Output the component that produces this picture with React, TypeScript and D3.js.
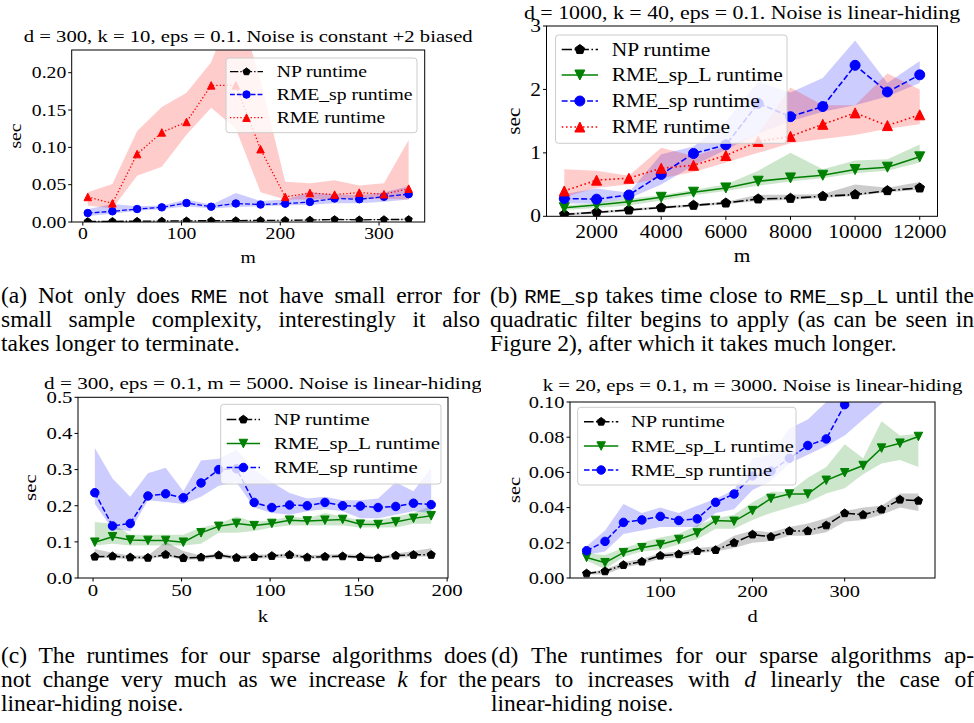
import React, { useEffect, useRef } from "react";
import * as d3 from "d3";

// (a) runtime vs m, d = 300, k = 10, constant +2 biased noise
const aM = [5, 30, 55, 80, 105, 130, 155, 180, 205, 230, 255, 280, 305, 330];
const aNP = [0.0008, 0.0009, 0.0011, 0.0013, 0.0016, 0.0017, 0.0019, 0.0021, 0.0022, 0.0026, 0.0034, 0.0029, 0.0033, 0.0034];
const aNPLo = [0.0004, 0.0005, 0.0007, 0.0009, 0.0012, 0.0013, 0.0015, 0.0017, 0.0018, 0.0021, 0.0028, 0.0024, 0.0028, 0.0029];
const aNPHi = [0.0014, 0.0015, 0.0017, 0.0019, 0.0023, 0.0024, 0.0026, 0.0028, 0.003, 0.0034, 0.0042, 0.0036, 0.0041, 0.0042];
const aSP = [0.012, 0.0143, 0.0174, 0.0196, 0.0254, 0.0205, 0.0248, 0.0234, 0.0246, 0.0268, 0.0315, 0.0305, 0.0338, 0.0373];
const aSPLo = [0.008, 0.011, 0.015, 0.017, 0.021, 0.018, 0.02, 0.021, 0.022, 0.023, 0.025, 0.025, 0.027, 0.03];
const aSPHi = [0.017, 0.024, 0.021, 0.022, 0.03, 0.023, 0.039, 0.028, 0.03, 0.04, 0.037, 0.036, 0.04, 0.048];
const aRME = [0.0335, 0.025, 0.091, 0.12, 0.134, 0.183, 0.183, 0.0975, 0.0336, 0.0389, 0.0367, 0.0394, 0.0372, 0.0447];
const aRMELo = [0.022, 0.018, 0.062, 0.074, 0.117, 0.153, 0.125, 0.04, 0.03, 0.03, 0.031, 0.031, 0.031, 0.03];
const aRMEHi = [0.04, 0.051, 0.122, 0.154, 0.173, 0.214, 0.3, 0.19, 0.054, 0.052, 0.056, 0.049, 0.052, 0.11];

// (b) runtime vs m, d = 1000, k = 40, linear-hiding noise
const bM = [1000, 2000, 3000, 4000, 5000, 6000, 7000, 8000, 9000, 10000, 11000, 12000];
const bNP = [0.03, 0.063, 0.1, 0.136, 0.174, 0.21, 0.274, 0.284, 0.316, 0.342, 0.405, 0.447];
const bNPLo = [0.01, 0.04, 0.08, 0.12, 0.15, 0.19, 0.24, 0.26, 0.29, 0.32, 0.38, 0.42];
const bNPHi = [0.05, 0.08, 0.12, 0.16, 0.19, 0.23, 0.34, 0.34, 0.35, 0.5, 0.45, 0.54];
const bSPL = [0.136, 0.178, 0.23, 0.3, 0.38, 0.447, 0.553, 0.605, 0.647, 0.737, 0.774, 0.937];
const bSPLLo = [0.1, 0.13, 0.17, 0.25, 0.33, 0.4, 0.48, 0.55, 0.6, 0.68, 0.72, 0.85];
const bSPLHi = [0.17, 0.21, 0.28, 0.33, 0.42, 0.5, 0.72, 1.0, 0.74, 0.88, 0.9, 1.13];
const bSP = [0.28, 0.27, 0.336, 0.66, 0.99, 1.126, 1.78, 1.57, 1.73, 2.38, 1.96, 2.23];
const bSPLo = [0.2, 0.2, 0.28, 0.5, 0.8, 1.05, 1.3, 1.5, 1.65, 1.75, 1.89, 2.1];
const bSPHi = [0.35, 0.44, 0.37, 0.98, 1.1, 1.5, 2.12, 1.95, 2.18, 2.77, 2.1, 2.45];
const bRME = [0.4, 0.57, 0.6, 0.757, 0.805, 0.958, 1.18, 1.26, 1.45, 1.63, 1.43, 1.6];
const bRMELo = [0.3, 0.45, 0.5, 0.6, 0.7, 0.85, 1.0, 1.15, 1.22, 1.28, 1.38, 1.45];
const bRMEHi = [0.74, 0.72, 0.64, 1.08, 0.95, 1.1, 1.3, 2.03, 1.75, 1.75, 2.25, 2.0];

// (c) runtime vs k, d = 300, m = 5000
const cK = [1, 11, 21, 31, 41, 51, 61, 71, 81, 91, 101, 111, 121, 131, 141, 151, 161, 171, 181, 191];
const cNP = [0.059, 0.06, 0.057, 0.056, 0.0646, 0.055, 0.057, 0.063, 0.056, 0.058, 0.061, 0.064, 0.057, 0.059, 0.06, 0.058, 0.055, 0.062, 0.064, 0.064];
const cNPLo = [0.055, 0.055, 0.052, 0.052, 0.06, 0.05, 0.052, 0.055, 0.052, 0.053, 0.055, 0.056, 0.053, 0.054, 0.055, 0.054, 0.052, 0.056, 0.058, 0.06];
const cNPHi = [0.08, 0.07, 0.062, 0.062, 0.1, 0.075, 0.062, 0.067, 0.062, 0.064, 0.066, 0.068, 0.063, 0.065, 0.066, 0.064, 0.06, 0.068, 0.075, 0.082];
const cSPL = [0.099, 0.114, 0.105, 0.104, 0.104, 0.099, 0.125, 0.143, 0.151, 0.145, 0.151, 0.16, 0.158, 0.16, 0.162, 0.149, 0.148, 0.155, 0.165, 0.172];
const cSPLLo = [0.09, 0.095, 0.09, 0.09, 0.09, 0.09, 0.095, 0.125, 0.125, 0.13, 0.14, 0.145, 0.145, 0.145, 0.145, 0.14, 0.14, 0.14, 0.15, 0.15];
const cSPLHi = [0.155, 0.15, 0.12, 0.12, 0.12, 0.12, 0.14, 0.15, 0.17, 0.155, 0.16, 0.17, 0.165, 0.18, 0.17, 0.16, 0.16, 0.17, 0.18, 0.2];
const cSP = [0.236, 0.144, 0.151, 0.227, 0.233, 0.222, 0.263, 0.3, 0.302, 0.209, 0.195, 0.202, 0.2, 0.209, 0.2, 0.199, 0.195, 0.198, 0.207, 0.203];
const cSPLo = [0.205, 0.135, 0.13, 0.215, 0.21, 0.205, 0.225, 0.255, 0.265, 0.195, 0.18, 0.175, 0.185, 0.19, 0.185, 0.165, 0.165, 0.175, 0.185, 0.18];
const cSPHi = [0.36, 0.275, 0.225, 0.29, 0.305, 0.24, 0.325, 0.33, 0.355, 0.3, 0.265, 0.235, 0.22, 0.225, 0.215, 0.215, 0.22, 0.265, 0.24, 0.305];

// (d) runtime vs d, k = 20, m = 3000
const dD = [20, 40, 60, 80, 100, 120, 140, 160, 180, 200, 220, 240, 260, 280, 300, 320, 340, 360, 380];
const dNP = [0.0026, 0.0038, 0.0074, 0.0093, 0.0127, 0.0135, 0.0153, 0.0159, 0.02, 0.0247, 0.0234, 0.0267, 0.0267, 0.0299, 0.0368, 0.0359, 0.0389, 0.0445, 0.0439];
const dNPLo = [0.002, 0.002, 0.006, 0.008, 0.011, 0.012, 0.014, 0.015, 0.017, 0.02, 0.021, 0.024, 0.024, 0.026, 0.032, 0.033, 0.036, 0.04, 0.038];
const dNPHi = [0.003, 0.005, 0.009, 0.011, 0.014, 0.015, 0.017, 0.018, 0.024, 0.027, 0.026, 0.029, 0.031, 0.034, 0.038, 0.04, 0.041, 0.048, 0.048];
const dSPL = [0.0117, 0.0087, 0.0144, 0.0172, 0.019, 0.0219, 0.0256, 0.0327, 0.0322, 0.0383, 0.0452, 0.0477, 0.0477, 0.0555, 0.0598, 0.0639, 0.0738, 0.0766, 0.0804];
const dSPLLo = [0.01, 0.005, 0.012, 0.015, 0.016, 0.019, 0.022, 0.028, 0.028, 0.033, 0.037, 0.04, 0.043, 0.048, 0.051, 0.059, 0.065, 0.067, 0.063];
const dSPLHi = [0.014, 0.013, 0.017, 0.02, 0.023, 0.025, 0.03, 0.034, 0.036, 0.043, 0.049, 0.049, 0.057, 0.063, 0.076, 0.068, 0.089, 0.081, 0.082];
const dSP = [0.0155, 0.0208, 0.0316, 0.033, 0.035, 0.0327, 0.0336, 0.043, 0.0477, 0.058, 0.0607, 0.068, 0.0753, 0.079, 0.0985, 0.112, 0.12, 0.13, 0.138];
const dSPLo = [0.013, 0.015, 0.025, 0.027, 0.029, 0.029, 0.029, 0.037, 0.039, 0.05, 0.055, 0.065, 0.07, 0.075, 0.081, 0.09, 0.099, 0.11, 0.115];
const dSPHi = [0.018, 0.027, 0.042, 0.037, 0.04, 0.037, 0.041, 0.045, 0.05, 0.068, 0.07, 0.085, 0.09, 0.1, 0.115, 0.125, 0.135, 0.14, 0.15];

const capA = ["(a) Not only does `RME` not have small error for", "small sample complexity, interestingly it also", "takes longer to terminate."];
const capB = ["(b) `RME_sp` takes time close to `RME_sp_L` until the", "quadratic filter begins to apply (as can be seen in", "Figure 2), after which it takes much longer."];
const capC = ["(c) The runtimes for our sparse algorithms does", "not change very much as we increase *k* for the", "linear-hiding noise."];
const capD = ["(d) The runtimes for our sparse algorithms ap-", "pears to increases with *d* linearly the case of", "linear-hiding noise."];

const SERIF = "'Liberation Serif', 'Times New Roman', serif";
const MONO = "'Liberation Mono', 'DejaVu Sans Mono', monospace";
// plot text imitates a wide serif: Liberation Serif stretched sideways
const FONT_K = 1.05;
const SX = 1.2;
const CAP_FS = 23.5;
const CAP_LH = 24;

const STYLE: any = {
  np: { label: "NP runtime", color: "#000000", marker: "p", dash: [6.4, 1.6, 1, 1.6] },
  spl: { label: "RME_sp_L runtime", color: "#008000", marker: "v", dash: null },
  sp: { label: "RME_sp runtime", color: "#0000ff", marker: "o", dash: [3.7, 1.6] },
  rme: { label: "RME runtime", color: "#ff0000", marker: "^", dash: [1, 1.65] },
};

const panels = [
  {
    id: "a",
    title: "d = 300, k = 10, eps = 0.1. Noise is constant +2 biased",
    xLabel: "m",
    box: { l: 71.7, r: 424.7, t: 50, b: 222 },
    x: aM,
    xDomain: [-11.25, 346.25],
    xTicks: [0, 100, 200, 300],
    xFmt: "d",
    yDomain: [0, 0.2304],
    yTicks: [0, 0.05, 0.1, 0.15, 0.2],
    yFmt: ".2f",
    fs: 15.6, titleFs: 16.4, titleY: 42, xTickDy: 17.3, xLabelY: 262.5, yLabelX: 21,
    ms: 7.5, lw: 1.3,
    series: [
      { key: "np", y: aNP, lo: aNPLo, hi: aNPHi },
      { key: "sp", y: aSP, lo: aSPLo, hi: aSPHi },
      { key: "rme", y: aRME, lo: aRMELo, hi: aRMEHi },
    ],
    legend: { l: 226, r: 417, t: 58, b: 132.7, rows: [71.7, 94.5, 117.7], x1: 230, x2: 263, tx: 276.7 },
    clipRight: 490,
  },
  {
    id: "b",
    title: "d = 1000, k = 40, eps = 0.1. Noise is linear-hiding",
    xLabel: "m",
    box: { l: 546.5, r: 937.5, t: 26, b: 216.3 },
    x: bM,
    xDomain: [450, 12550],
    xTicks: [2000, 4000, 6000, 8000, 10000, 12000],
    xFmt: "d",
    yDomain: [0, 3],
    yTicks: [0, 1, 2, 3],
    yFmt: "d",
    fs: 17, titleFs: 17.4, titleY: 18.5, xTickDy: 21.4, xLabelY: 261.7, yLabelX: 520,
    ms: 10, lw: 1.6,
    series: [
      { key: "np", y: bNP, lo: bNPLo, hi: bNPHi },
      { key: "spl", y: bSPL, lo: bSPLLo, hi: bSPLHi },
      { key: "sp", y: bSP, lo: bSPLo, hi: bSPHi },
      { key: "rme", y: bRME, lo: bRMELo, hi: bRMEHi },
    ],
    legend: { l: 555.5, r: 787, t: 35, b: 143.3, rows: [49.5, 75, 101, 127], x1: 561.7, x2: 598, tx: 611.7 },
    clipRight: 974,
  },
  {
    id: "c",
    title: "d = 300, eps = 0.1, m = 5000. Noise is linear-hiding",
    xLabel: "k",
    box: { l: 78, r: 448, t: 397.3, b: 578 },
    x: cK,
    xDomain: [-8.5, 200.5],
    xTicks: [0, 50, 100, 150, 200],
    xFmt: "d",
    yDomain: [0, 0.5],
    yTicks: [0, 0.1, 0.2, 0.3, 0.4, 0.5],
    yFmt: ".1f",
    fs: 16.5, titleFs: 16.8, titleY: 388.5, xTickDy: 18, xLabelY: 621.7, yLabelX: 36,
    ms: 8.5, lw: 1.5,
    series: [
      { key: "np", y: cNP, lo: cNPLo, hi: cNPHi },
      { key: "spl", y: cSPL, lo: cSPLLo, hi: cSPLHi },
      { key: "sp", y: cSP, lo: cSPLo, hi: cSPHi },
    ],
    legend: { l: 220.7, r: 441, t: 404.3, b: 484, rows: [419.5, 443.5, 467.5], x1: 226.7, x2: 260, tx: 274 },
    clipRight: 481,
  },
  {
    id: "d",
    title: "k = 20, eps = 0.1, m = 3000. Noise is linear-hiding",
    xLabel: "d",
    box: { l: 570, r: 935, t: 402, b: 578 },
    x: dD,
    xDomain: [2, 398],
    xTicks: [100, 200, 300],
    xFmt: "d",
    yDomain: [0, 0.1],
    yTicks: [0, 0.02, 0.04, 0.06, 0.08, 0.1],
    yFmt: ".2f",
    fs: 16.2, titleFs: 16.5, titleY: 391, xTickDy: 18.7, xLabelY: 621.7, yLabelX: 520,
    ms: 8.5, lw: 1.5,
    series: [
      { key: "np", y: dNP, lo: dNPLo, hi: dNPHi },
      { key: "spl", y: dSPL, lo: dSPLLo, hi: dSPLHi },
      { key: "sp", y: dSP, lo: dSPLo, hi: dSPHi },
    ],
    legend: { l: 577.7, r: 796, t: 407.3, b: 485, rows: [421.7, 446, 470], x1: 584, x2: 618.3, tx: 631 },
    clipRight: 974,
  },
];

const captions = [
  { lines: capA, x0: 1, x1: 480, y: 303 },
  { lines: capB, x0: 490, x1: 974, y: 303 },
  { lines: capC, x0: 1, x1: 487, y: 663 },
  { lines: capD, x0: 491, x1: 974, y: 663 },
];

const drawMarker = (g: any, kind: string, cx: number, cy: number, ms: number, color: string) => {
  const r = ms / 2;
  let el;
  if (kind === "o") {
    el = g.append("circle").attr("cx", cx).attr("cy", cy).attr("r", r);
  } else {
    let pts: number[][];
    if (kind === "^") pts = [[0, -r], [r, r], [-r, r]];
    else if (kind === "v") pts = [[0, r], [r, -r], [-r, -r]];
    else
      pts = d3.range(5).map((k) => {
        const a = -Math.PI / 2 + (k * 2 * Math.PI) / 5;
        return [r * Math.cos(a), r * Math.sin(a)];
      });
    el = g.append("polygon").attr("points", pts.map((p) => `${cx + p[0]},${cy + p[1]}`).join(" "));
  }
  el.attr("fill", color).attr("stroke", color).attr("stroke-width", 1);
};

const dashOf = (dash: number[] | null, lw: number) => (dash ? dash.map((d) => d * lw).join(",") : null);

// text placed at (x, y) and stretched sideways
const label = (g: any, x: number, y: number, str: string, fs: number, anchor = "start", rotate = 0) =>
  g.append("text")
    .attr("transform", `translate(${x},${y})${rotate ? ` rotate(${rotate})` : ""} scale(${SX},1)`)
    .attr("font-size", fs * FONT_K)
    .attr("text-anchor", anchor)
    .text(str);

const drawPanel = (root: any, p: any) => {
  const g = root.append("g").attr("font-family", SERIF).attr("fill", "#000");
  const x = d3.scaleLinear().domain(p.xDomain).range([p.box.l, p.box.r]);
  const y = d3.scaleLinear().domain(p.yDomain).range([p.box.b, p.box.t]);

  const clipId = `plot-clip-${p.id}`;
  g.append("clipPath").attr("id", clipId).append("rect")
    .attr("x", p.box.l).attr("y", p.box.t)
    .attr("width", p.box.r - p.box.l).attr("height", p.box.b - p.box.t);
  const plot = g.append("g").attr("clip-path", `url(#${clipId})`);

  // shaded bands under everything
  p.series.forEach((s: any) => {
    const area = d3.area<number>()
      .x((_, i) => x(p.x[i]))
      .y0((_, i) => y(s.lo[i]))
      .y1((_, i) => y(s.hi[i]));
    plot.append("path").attr("d", area(s.y)).attr("fill", STYLE[s.key].color).attr("fill-opacity", 0.2);
  });

  p.series.forEach((s: any) => {
    const st = STYLE[s.key];
    const line = d3.line<number>().x((_, i) => x(p.x[i])).y((d) => y(d));
    plot.append("path").attr("d", line(s.y))
      .attr("fill", "none").attr("stroke", st.color).attr("stroke-width", p.lw)
      .attr("stroke-dasharray", dashOf(st.dash, p.lw));
    s.y.forEach((v: number, i: number) => drawMarker(plot, st.marker, x(p.x[i]), y(v), p.ms, st.color));
  });

  // frame
  g.append("rect")
    .attr("x", p.box.l).attr("y", p.box.t)
    .attr("width", p.box.r - p.box.l).attr("height", p.box.b - p.box.t)
    .attr("fill", "none").attr("stroke", "#000").attr("stroke-width", 1);

  // ticks
  const fx = d3.format(p.xFmt);
  const fy = d3.format(p.yFmt);
  p.xTicks.forEach((t: number) => {
    g.append("line").attr("x1", x(t)).attr("x2", x(t)).attr("y1", p.box.b).attr("y2", p.box.b + 3.5)
      .attr("stroke", "#000").attr("stroke-width", 1);
    label(g, x(t), p.box.b + p.xTickDy, fx(t), p.fs, "middle");
  });
  p.yTicks.forEach((t: number) => {
    g.append("line").attr("x1", p.box.l - 3.5).attr("x2", p.box.l).attr("y1", y(t)).attr("y2", y(t))
      .attr("stroke", "#000").attr("stroke-width", 1);
    label(g, p.box.l - 5.5, y(t), fy(t), p.fs, "end").attr("dy", "0.34em");
  });

  // labels and title
  label(g, (p.box.l + p.box.r) / 2, p.xLabelY, p.xLabel, p.fs, "middle");
  label(g, p.yLabelX, (p.box.t + p.box.b) / 2, "sec", p.fs, "middle", -90);
  const tClip = `title-clip-${p.id}`;
  g.append("clipPath").attr("id", tClip).append("rect")
    .attr("x", p.clipRight - 490).attr("y", 0).attr("width", 490).attr("height", 723);
  const tg = g.append("g").attr("clip-path", `url(#${tClip})`);
  label(tg, (p.box.l + p.box.r) / 2, p.titleY, p.title, p.titleFs, "middle");

  // legend
  const L = p.legend;
  const lg = g.append("g");
  lg.append("rect").attr("x", L.l).attr("y", L.t).attr("width", L.r - L.l).attr("height", L.b - L.t)
    .attr("rx", 3).attr("fill", "#fff").attr("fill-opacity", 0.8)
    .attr("stroke", "#cccccc").attr("stroke-width", 1);
  p.series.forEach((s: any, i: number) => {
    const st = STYLE[s.key];
    const yy = L.rows[i];
    lg.append("line").attr("x1", L.x1).attr("x2", L.x2).attr("y1", yy).attr("y2", yy)
      .attr("stroke", st.color).attr("stroke-width", p.lw)
      .attr("stroke-dasharray", dashOf(st.dash, p.lw));
    drawMarker(lg, st.marker, (L.x1 + L.x2) / 2, yy, p.ms, st.color);
    label(lg, L.tx, yy, st.label, p.fs).attr("dy", "0.34em");
  });
};

// justified caption lines; the last line of each caption keeps normal spacing
const drawCaption = (root: any, cap: any) => {
  const g = root.append("g").attr("font-family", SERIF).attr("font-size", CAP_FS).attr("fill", "#000");
  cap.lines.forEach((line: string, li: number) => {
    const words = line.split(" ");
    const yy = cap.y + li * CAP_LH;
    const nodes = words.map((w) => {
      const t = g.append("text").attr("y", yy);
      w.split(/(`[^`]+`|\*[^*]+\*)/).filter((s) => s.length > 0).forEach((s) => {
        if (s.startsWith("`"))
          t.append("tspan").attr("font-family", MONO).attr("font-size", CAP_FS * 0.88).text(s.slice(1, -1));
        else if (s.startsWith("*")) t.append("tspan").attr("font-style", "italic").text(s.slice(1, -1));
        else t.append("tspan").text(s);
      });
      return t;
    });
    const widths = nodes.map((n: any) => (n.node() as SVGTextElement).getComputedTextLength());
    const total = d3.sum(widths);
    const last = li === cap.lines.length - 1;
    const gap = last ? CAP_FS * 0.25 : (cap.x1 - cap.x0 - total) / (words.length - 1);
    let cx = cap.x0;
    nodes.forEach((n: any, i: number) => {
      n.attr("x", cx);
      cx += widths[i] + gap;
    });
  });
};

const App = () => {
  const ref = useRef<SVGSVGElement>(null);

  useEffect(() => {
    const svg = d3.select(ref.current);
    svg.selectAll("*").remove();
    svg.append("rect").attr("width", 974).attr("height", 723).attr("fill", "#fff");
    panels.forEach((p) => drawPanel(svg, p));
    captions.forEach((c) => drawCaption(svg, c));
  }, []);

  return (
    <svg
      ref={ref}
      width={974}
      height={723}
      style={{ position: "absolute", left: 0, top: 0, display: "block" }}
    />
  );
};

export default App;
